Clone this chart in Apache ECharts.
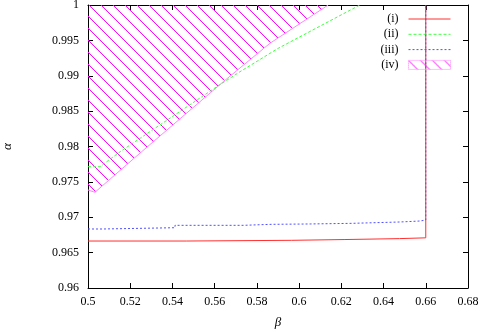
<!DOCTYPE html>
<html>
<head>
<meta charset="utf-8">
<script src="https://cdn.jsdelivr.net/npm/echarts@6/dist/echarts.min.js"></script>
<style>
  html, body { margin: 0; padding: 0; background: #fff; }
</style>
</head>
<body>
<div id="chart" style="width: 480px; height: 332px;"></div>
<script>
// values
const names = ['(i)', '(ii)', '(iii)', '(iv)'];

// (i): red step curve, then straight up at beta = 0.66
const iBeta  = [0.5, 0.5468, 0.5965, 0.6217, 0.6475, 0.66, 0.66];
const iAlpha = [0.96664, 0.96674, 0.96685, 0.96698, 0.96709, 0.96709, 1];

// (ii): green dashed curve
const iiBeta  = [0.5, 0.5057, 0.5152, 0.5610, 0.5720, 0.5901, 0.6288];
const iiAlpha = [0.97714, 0.97714, 0.97926, 0.98845, 0.99057, 0.99388, 1];

// (iii): blue dotted step curve
const iiiBeta  = [0.5, 0.5071, 0.5412, 0.5736, 0.5870, 0.6052, 0.6249, 0.6478, 0.6573, 0.66, 0.66];
const iiiAlpha = [0.96834, 0.96852, 0.96886, 0.96900, 0.96905, 0.96914, 0.96933, 0.96947, 0.96961, 0.96961, 1];

// (iv): lower edge of the hatched region (filled up to alpha = 1)
const ivBeta  = [0.5, 0.5033, 0.5254, 0.5641, 0.5720, 0.5862, 0.6138];
const ivAlpha = [0.97385, 0.97353, 0.97926, 0.98916, 0.99110, 0.99459, 1];

const font = '"Liberation Serif", "DejaVu Serif", serif';

function pairs(xs, ys) {
  return xs.map((x, i) => [x, ys[i]]);
}

// 45 degree "\" hatching, one line per 12px tile
function hatch() {
  const c = document.createElement('canvas');
  c.width = 12;
  c.height = 12;
  const g = c.getContext('2d');
  g.strokeStyle = '#ff00ff';
  g.lineWidth = 1;
  g.beginPath();
  for (let k = -1; k <= 1; k++) {
    g.moveTo(12 * k - 12, -12);
    g.lineTo(12 * k + 24, 24);
  }
  g.stroke();
  return { image: c, repeat: 'repeat' };
}

const chart = echarts.init(document.getElementById('chart'));
const pattern = hatch();

const tickStyle = { inside: true, length: 5, lineStyle: { color: '#000' } };
const lineAxis = { show: true, lineStyle: { color: '#000', width: 1 } };
// hides the dot that line series put in the middle of their legend icon
const hiddenDot = { color: 'rgba(0,0,0,0)', borderColor: 'rgba(0,0,0,0)', borderWidth: 0 };

const option = {
  animation: false,
  grid: { left: 88, right: 12, top: 5, bottom: 44, outerBoundsMode: 'none', containLabel: false },
  legend: {
    orient: 'vertical',
    right: 24,
    top: 8,
    align: 'right',
    itemWidth: 42,
    itemHeight: 9,
    itemGap: 3.3,
    lineStyle: { width: 1 },
    textStyle: { fontFamily: font, fontSize: 12, lineHeight: 12, color: '#000', padding: [0, 5, 0, 0] },
    data: [
      { name: names[0], itemStyle: hiddenDot },
      { name: names[1], itemStyle: hiddenDot },
      { name: names[2], itemStyle: hiddenDot },
      { name: names[3], icon: 'rect',
        itemStyle: { color: pattern, borderColor: '#ff80ff', borderWidth: 1, borderType: 'dotted' } }
    ]
  },
  xAxis: [
    {
      type: 'value', min: 0.5, max: 0.68, interval: 0.02,
      name: 'β', nameLocation: 'middle', nameGap: 28,
      nameTextStyle: { fontFamily: font, fontSize: 13, fontStyle: 'italic', color: '#000' },
      axisLine: lineAxis, axisTick: tickStyle,
      axisLabel: { fontFamily: font, fontSize: 12, color: '#000', margin: 8 },
      splitLine: { show: false }
    },
    {
      type: 'value', position: 'top', min: 0.5, max: 0.68, interval: 0.02,
      axisLine: lineAxis, axisTick: tickStyle,
      axisLabel: { show: false }, splitLine: { show: false }
    }
  ],
  yAxis: [
    {
      type: 'value', min: 0.96, max: 1, interval: 0.005,
      name: 'α', nameLocation: 'middle', nameGap: 74, nameRotate: 90,
      nameTextStyle: { fontFamily: font, fontSize: 13, fontStyle: 'italic', color: '#000' },
      axisLine: lineAxis, axisTick: tickStyle,
      axisLabel: { fontFamily: font, fontSize: 12, color: '#000', margin: 9 },
      splitLine: { show: false }
    },
    {
      type: 'value', position: 'right', min: 0.96, max: 1, interval: 0.005,
      axisLine: lineAxis, axisTick: tickStyle,
      axisLabel: { show: false }, splitLine: { show: false }
    }
  ],
  series: [
    {
      name: names[3], type: 'line', symbol: 'none', z: 1,
      data: pairs(ivBeta, ivAlpha),
      lineStyle: { color: '#ff88ff', width: 1 },
      itemStyle: { color: '#ff88ff' },
      areaStyle: { origin: 'end', color: pattern, opacity: 1 }
    },
    {
      name: names[0], type: 'line', symbol: 'none', step: 'end', z: 2,
      data: pairs(iBeta, iAlpha),
      lineStyle: { color: '#ff3030', width: 1 },
      itemStyle: { color: '#ff3030' }
    },
    {
      name: names[1], type: 'line', symbol: 'none', z: 3,
      data: pairs(iiBeta, iiAlpha),
      lineStyle: { color: '#40ff40', width: 1, type: [3, 2] },
      itemStyle: { color: '#40ff40' }
    },
    {
      name: names[2], type: 'line', symbol: 'none', step: 'end', z: 4,
      data: pairs(iiiBeta, iiiAlpha),
      lineStyle: { color: '#5050ff', width: 1, type: [2, 2] },
      itemStyle: { color: '#5050ff' }
    }
  ]
};

chart.setOption(option);
</script>
</body>
</html>
